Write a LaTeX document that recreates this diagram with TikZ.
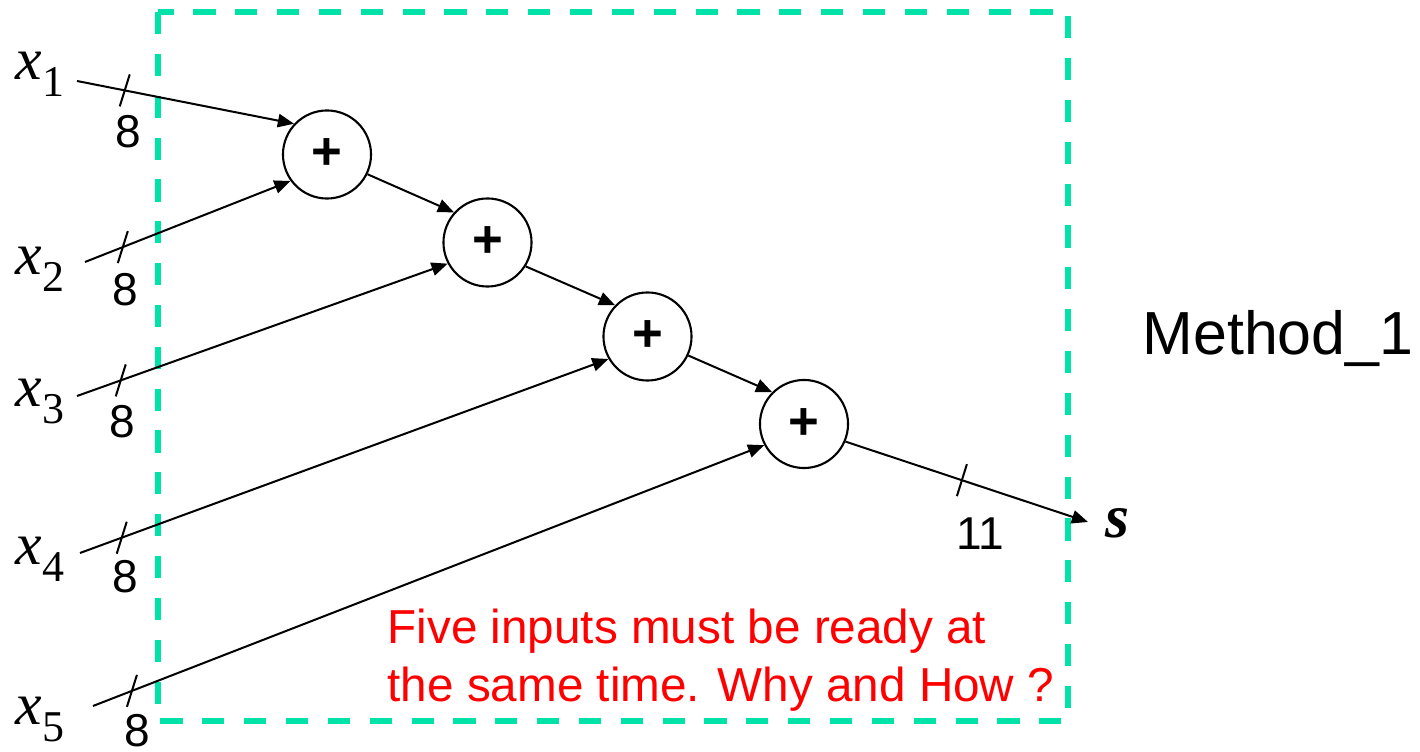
\documentclass[tikz,border=0pt]{standalone}
\usepackage{fontspec}
\setmainfont{Liberation Sans}
\newfontfamily\serif{Liberation Serif}
\usetikzlibrary{arrows.meta,calc}
\definecolor{boxgreen}{RGB}{0,226,168}
\definecolor{txtred}{RGB}{255,0,0}
\newcommand{\xin}[1]{x\raisebox{-4.8pt}{\upshape\fontsize{12.5}{12.5}\selectfont #1}}
\begin{document}
\begin{tikzpicture}[x=0.01cm,y=-0.01cm,
  wire/.style={line width=0.57pt},
  arr/.style={wire,-{Triangle[length=4.6pt,width=3.8pt]}},
  adder/.style={circle,draw,line width=0.6pt,minimum size=0.88cm,inner sep=0pt,
    font=\fontsize{15}{15}\selectfont\bfseries},
  xlab/.style={anchor=base west,inner sep=0pt,font=\serif\itshape\fontsize{17}{17}\selectfont},
  bits/.style={inner sep=0pt,font=\fontsize{13.1}{13.1}\selectfont},
  tickmark/.style={line width=0.57pt},
  note/.style={anchor=base west,inner sep=0pt,text=txtred,font=\fontsize{13.55}{13.55}\selectfont}]

\useasboundingbox (0,0) rectangle (1420,752);
\draw[boxgreen,line width=1.6pt,dash pattern=on 6.3pt off 5.6pt] (158,12) rectangle (1068,721);

% adders
\node[adder] (a1) at (327,154.5) {\raisebox{-2pt}{+}};
\node[adder] (a2) at (487.5,242.5) {\raisebox{-2pt}{+}};
\node[adder] (a3) at (647.5,336.5) {\raisebox{-2pt}{+}};
\node[adder] (a4) at (804,424) {\raisebox{-2pt}{+}};

% input labels
\node[xlab] (x1) at (15,80) {\xin{1}};
\node[xlab] (x2) at (15,275) {\xin{2}};
\node[xlab] (x3) at (15,407) {\xin{3}};
\node[xlab] (x4) at (15,565) {\xin{4}};
\node[xlab] (x5) at (15,725) {\xin{5}};

% wire start points
\coordinate (i1) at (77,81);
\coordinate (i2) at (85,262);
\coordinate (i3) at (77,396);
\coordinate (i4) at (80,553);
\coordinate (i5) at (93,706);
\coordinate (se) at (1088,522);

% output label
\node[inner sep=0pt,font=\serif\bfseries\itshape\fontsize{17.5}{17.5}\selectfont] (s) at (1117,523) {s};

% wires
\draw[arr] (i1) -- coordinate[pos=0.22] (t1) (a1.137);
\draw[arr] (i2) -- coordinate[pos=0.184] (t2) (a1.216);
\draw[arr] (i3) -- coordinate[pos=0.118] (t3) (a2.208);
\draw[arr] (i4) -- coordinate[pos=0.079] (t4) (a3.210);
\draw[arr] (i5) -- coordinate[pos=0.058] (t5) (a4.208);
\draw[arr] (a1.-26) -- (a2.138);
\draw[arr] (a2.-32) -- (a3.136);
\draw[arr] (a3.-25) -- (a4.135);
\draw[arr] (a4.-23) -- coordinate[pos=0.48] (t6) (se);

% bit-width ticks
\foreach \t in {t1,t2,t3,t4,t5,t6}
  \draw[tickmark] ($(\t)+(5,-16)$) -- ($(\t)+(-5,16)$);

% bit-width labels
\node[bits] (w1) at (128,132) {8};
\node[bits] (w2) at (125,290) {8};
\node[bits] (w3) at (122,422) {8};
\node[bits] (w4) at (125,577) {8};
\node[bits] (w5) at (137,731) {8};
\node[bits] (w6) at (980,534) {11};

% method label
\node[anchor=base west,inner sep=0pt,font=\fontsize{17.3}{17.3}\selectfont] (m) at (1142,355) {Method\_1};

% note
\node[note] (n1) at (387,644) {Five inputs must be ready at};
\node[note] (n2) at (387,702) {the same time. Why and How ?};
\end{tikzpicture}
\end{document}
